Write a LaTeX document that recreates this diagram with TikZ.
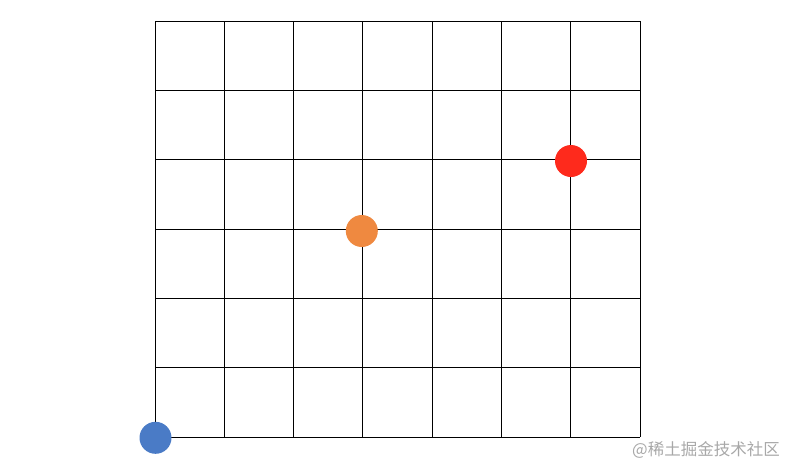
\documentclass[tikz,border=0pt]{standalone}
\usepackage{fontspec}
\newfontfamily\cjk{Noto Sans CJK SC}
\definecolor{dotblue}{HTML}{4A7BC6}
\definecolor{dotorange}{HTML}{EF8940}
\definecolor{dotred}{HTML}{FE2A1C}
\definecolor{wmgray}{HTML}{A8A8A8}
\tikzset{
  gridline/.style={line width=1pt, black},
  dot/.style={circle, inner sep=0pt, minimum size=32pt, draw=none},
  watermark/.style={font=\cjk\fontsize{16.5}{18}\selectfont, text=wmgray, inner sep=0pt, anchor=east}
}
\begin{document}
\begin{tikzpicture}[x=1pt,y=-1pt]
\useasboundingbox (0,0) rectangle (785,464);
\foreach \x in {155,224.3,293.6,362.9,432.1,501.4,570.7,640}
  \draw[gridline] (\x,21) -- (\x,437);
\foreach \y in {21,90.3,159.7,229,298.3,367.7,437}
  \draw[gridline] (155,\y) -- (640,\y);
\node[dot, fill=dotblue] (blue) at (155.5,437.8) {};
\node[dot, fill=dotorange] (orange) at (361.8,231) {};
\node[dot, fill=dotred] (red) at (571,161) {};
\node[watermark] (wm) at (780,449.5) {@稀土掘金技术社区};
\end{tikzpicture}
\end{document}
